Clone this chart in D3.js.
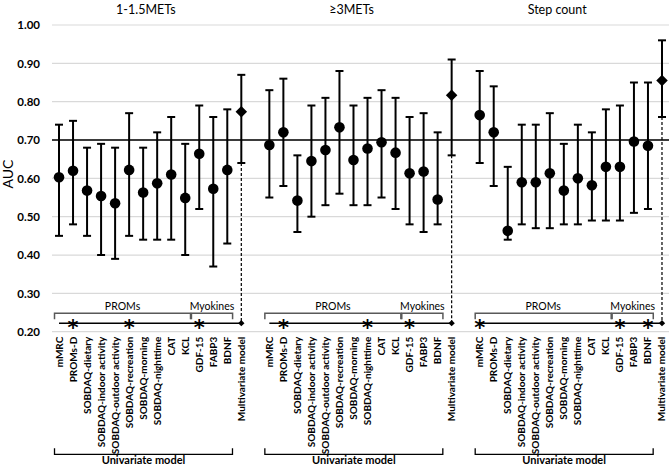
<!DOCTYPE html>
<html><head><meta charset="utf-8">
<script src="https://cdn.jsdelivr.net/npm/d3@7/dist/d3.min.js"></script>
<style>body{margin:0;background:#fff}svg{display:block}</style>
</head><body>
<svg id="chart" width="669" height="465"></svg>
<script>
// ---------- data ----------
const panels = ["1-1.5METs", "≥3METs", "Step count"];
const categories = ["mMRC","PROMs-D","SOBDAQ-dietary","SOBDAQ-indoor activity","SOBDAQ-outdoor activity",
  "SOBDAQ-recreation","SOBDAQ-morning","SOBDAQ-nighttime","CAT","KCL","GDF-15","FABP3","BDNF","Multivariate model"];
const aucMets1  = [0.603,0.620,0.568,0.554,0.535,0.622,0.563,0.587,0.610,0.549,0.664,0.573,0.622,0.774];
const lowMets1  = [0.45,0.48,0.45,0.40,0.39,0.45,0.44,0.44,0.44,0.40,0.52,0.37,0.43,0.64];
const highMets1 = [0.74,0.75,0.68,0.69,0.68,0.77,0.68,0.72,0.76,0.69,0.79,0.76,0.78,0.87];
const aucMets3  = [0.687,0.720,0.542,0.645,0.674,0.733,0.648,0.678,0.694,0.667,0.613,0.618,0.545,0.817];
const lowMets3  = [0.55,0.58,0.46,0.50,0.53,0.56,0.53,0.53,0.55,0.52,0.48,0.46,0.48,0.66];
const highMets3 = [0.83,0.86,0.66,0.79,0.81,0.88,0.79,0.81,0.83,0.81,0.76,0.77,0.72,0.91];
const aucStep   = [0.765,0.720,0.463,0.590,0.590,0.613,0.568,0.600,0.582,0.630,0.630,0.696,0.685,0.855];
const lowStep   = [0.64,0.58,0.44,0.48,0.47,0.47,0.48,0.48,0.49,0.49,0.49,0.51,0.52,0.76];
const highStep  = [0.88,0.84,0.63,0.74,0.74,0.77,0.69,0.74,0.72,0.78,0.79,0.85,0.85,0.96];
const yTicks = [0.20,0.30,0.40,0.50,0.60,0.70,0.80,0.90,1.00];
const referenceAUC = 0.70;
const subgroups = [{label:"PROMs", from:0, to:9}, {label:"Myokines", from:10, to:12}];
const significantIdx = [[1,5,10],[1,7,10],[0,10,12]];
const univariateLabel = "Univariate model";
const yTitle = "AUC";

// ---------- build ----------
const series = [
  {auc:aucMets1, low:lowMets1, high:highMets1},
  {auc:aucMets3, low:lowMets3, high:highMets3},
  {auc:aucStep,  low:lowStep,  high:highStep}
];
const nCat = categories.length;
const slotsPer = nCat + 1;
const nSlots = slotsPer * panels.length - 1;
const FONT = "Lato, 'Open Sans', sans-serif";

const svg = d3.select("#chart");
const pLeft = 52, pRight = 669, pTop = 25, pBottom = 331.7;
const xBand = d3.scaleBand().domain(d3.range(nSlots)).range([pLeft, pRight]);
const xs = (g, c) => xBand(g * slotsPer + c) + xBand.bandwidth() / 2;
const y = d3.scaleLinear().domain([0.2, 1.0]).range([pBottom, pTop]);

// grid
svg.append("g").selectAll("line").data(yTicks).join("line")
  .attr("x1", pLeft).attr("x2", pRight)
  .attr("y1", d => y(d)).attr("y2", d => y(d))
  .attr("stroke", "#d9d9d9").attr("stroke-width", 1.2);

// y axis (labels only)
const yAxis = d3.axisLeft(y).tickValues(yTicks).tickFormat(d3.format(".2f")).tickSize(0).tickPadding(12);
const ag = svg.append("g").attr("transform", `translate(${pLeft},0)`).call(yAxis);
ag.select(".domain").remove();
ag.selectAll("text").attr("font-family", FONT).attr("font-weight", "bold").attr("font-size", 11.5).attr("fill", "#000");

svg.append("text").attr("transform", "translate(13,174) rotate(-90)")
  .attr("text-anchor", "middle").attr("font-family", FONT).attr("font-size", 14).text(yTitle);

// reference line
svg.append("line").attr("x1", pLeft).attr("x2", pRight)
  .attr("y1", y(referenceAUC)).attr("y2", y(referenceAUC))
  .attr("stroke", "#000").attr("stroke-width", 1.5);

const lineY = y(0.2) - 8.5;
const bracketY = lineY - 10;

panels.forEach((title, g) => {
  const s = series[g];
  const pg = svg.append("g");
  const data = categories.map((c, i) => ({c, i, auc: s.auc[i], low: s.low[i], high: s.high[i], x: xs(g, i)}));
  const multi = data[nCat - 1];

  svg.append("text").attr("x", pLeft + (pRight - pLeft) * (g / 3 + 1 / 6) - 9).attr("y", 14)
    .attr("text-anchor", "middle").attr("font-family", FONT).attr("font-size", 12.5).text(title);

  pg.append("line").attr("x1", multi.x).attr("x2", multi.x)
    .attr("y1", y(multi.low)).attr("y2", lineY)
    .attr("stroke", "#000").attr("stroke-width", 1.2).attr("stroke-dasharray", "3,2");

  pg.selectAll(".eb").data(data).join("line").attr("class", "eb")
    .attr("x1", d => d.x).attr("x2", d => d.x)
    .attr("y1", d => y(d.low)).attr("y2", d => y(d.high))
    .attr("stroke", "#000").attr("stroke-width", 2);
  ["low", "high"].forEach(k => {
    pg.selectAll(".cap" + k).data(data).join("line").attr("class", "cap" + k)
      .attr("x1", d => d.x - 4).attr("x2", d => d.x + 4)
      .attr("y1", d => y(d[k])).attr("y2", d => y(d[k]))
      .attr("stroke", "#000").attr("stroke-width", 2);
  });

  pg.selectAll(".dot").data(data.slice(0, nCat - 1)).join("circle").attr("class", "dot")
    .attr("cx", d => d.x).attr("cy", d => y(d.auc)).attr("r", 5.3).attr("fill", "#000");
  pg.append("path").attr("d", d3.symbol(d3.symbolSquare, 66)())
    .attr("transform", `translate(${multi.x},${y(multi.auc)}) rotate(45)`).attr("fill", "#000");

  pg.append("line").attr("x1", data[0].x).attr("x2", multi.x)
    .attr("y1", lineY).attr("y2", lineY).attr("stroke", "#000").attr("stroke-width", 1.5);
  pg.append("path").attr("d", d3.symbol(d3.symbolSquare, 20)())
    .attr("transform", `translate(${multi.x},${lineY}) rotate(45)`).attr("fill", "#000");
  pg.selectAll(".ast").data(significantIdx[g]).join("text").attr("class", "ast")
    .attr("x", i => data[i].x).attr("y", lineY + 11.5)
    .attr("text-anchor", "middle").attr("font-family", "DejaVu Sans").attr("font-weight", "bold")
    .attr("font-size", 21).text("*");

  subgroups.forEach((sg, k) => {
    const x0 = k === 0 ? data[sg.from].x - 4.5 : data[sg.from].x - 7.8;
    const x1 = data[sg.to].x + 5.3;
    pg.append("path").attr("d", `M${x0},${bracketY + 6}V${bracketY}H${x1}V${bracketY + 6}`)
      .attr("fill", "none").attr("stroke", "#595959").attr("stroke-width", 1.5);
    pg.append("text").attr("x", (x0 + x1) / 2).attr("y", bracketY - 3)
      .attr("text-anchor", "middle").attr("font-family", FONT).attr("font-size", 10.5).text(sg.label);
  });

  pg.selectAll(".cl").data(data).join("text").attr("class", "cl")
    .attr("transform", d => `translate(${d.x},${pBottom + 5}) rotate(-90)`)
    .attr("dy", "0.35em").attr("text-anchor", "end")
    .attr("font-family", FONT).attr("font-weight", "bold").attr("font-size", 10).text(d => d.c);

  const u0 = data[0].x - 4.5, u1 = data[nCat - 2].x + 5.2, uy = 454.3;
  pg.append("path").attr("d", `M${u0},${uy - 6}V${uy}H${u1}V${uy - 6}`)
    .attr("fill", "none").attr("stroke", "#000").attr("stroke-width", 1.3);
  pg.append("text").attr("x", (u0 + u1) / 2).attr("y", 464)
    .attr("text-anchor", "middle").attr("font-family", FONT).attr("font-weight", "bold").attr("font-size", 11)
    .text(univariateLabel);
});
</script>
</body></html>
